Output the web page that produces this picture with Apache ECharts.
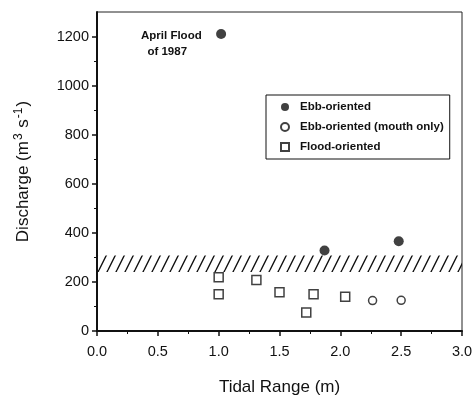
<!DOCTYPE html>
<html><head><meta charset="utf-8">
<script src="https://cdn.jsdelivr.net/npm/echarts@6/dist/echarts.min.js"></script>
<style>html,body{margin:0;padding:0;background:#fff}#c{width:473px;height:397px}</style>
</head><body><div id="c"></div>
<script>
const ebbOriented = [[1.02, 1210], [1.87, 328], [2.48, 366]];
const ebbMouth = [[2.265, 124], [2.50, 125]];
const floodOriented = [[1.00, 219], [1.00, 150], [1.31, 208], [1.50, 158], [1.72, 75], [1.78, 150], [2.04, 140]];
const hatchBand = [240, 308];
const xTicks = [0, 0.5, 1.0, 1.5, 2.0, 2.5, 3.0];
const yTicks = [0, 200, 400, 600, 800, 1000, 1200];

const pc = document.createElement('canvas');
pc.width = 9; pc.height = 18;
const g = pc.getContext('2d');
g.strokeStyle = '#111'; g.lineWidth = 1.4;
g.beginPath();
g.moveTo(0, 18); g.lineTo(9, 0);
g.moveTo(-9, 18); g.lineTo(0, 0);
g.moveTo(9, 18); g.lineTo(18, 0);
g.stroke();

const FONT = 'Liberation Sans, Arial, sans-serif';
const chart = echarts.init(document.getElementById('c'));
chart.setOption({
  animation: false,
  textStyle: { fontFamily: FONT, color: '#111' },
  grid: { left: 97, right: 11, top: 12, bottom: 66, show: true, borderColor: '#222', borderWidth: 1,
    containLabel: false, outerBoundsMode: 'none' },
  xAxis: {
    type: 'value', min: 0, max: 3, interval: 0.5,
    name: 'Tidal Range (m)', nameLocation: 'middle', nameGap: 48,
    nameTextStyle: { fontSize: 17, color: '#111', fontFamily: FONT },
    axisLine: { lineStyle: { color: '#111', width: 2 } },
    axisTick: { length: 5, lineStyle: { color: '#111', width: 1.5 } },
    minorTick: { show: true, splitNumber: 2, length: 3, lineStyle: { color: '#111' } },
    splitLine: { show: false },
    axisLabel: { fontSize: 14.5, color: '#111', margin: 13, formatter: v => v.toFixed(1) }
  },
  yAxis: {
    type: 'value', min: 0, max: 1300, interval: 200,
    name: 'Discharge (m{sup|3} s{sup|-1})', nameLocation: 'middle', nameGap: 64,
    nameTextStyle: { fontSize: 17, color: '#111', fontFamily: FONT, lineHeight: 20,
      rich: { sup: { fontSize: 12, fontFamily: FONT, color: '#111', verticalAlign: 'top', lineHeight: 20, padding: [0, 1, 0, 1] } } },
    axisLine: { lineStyle: { color: '#111', width: 2 } },
    axisTick: { length: 5, lineStyle: { color: '#111', width: 1.5 }, customValues: yTicks },
    minorTick: { show: true, splitNumber: 2, length: 3, lineStyle: { color: '#111' } },
    splitLine: { show: false },
    axisLabel: { fontSize: 14.5, color: '#111', margin: 8, customValues: yTicks, formatter: v => String(v) }
  },
  legend: {
    orient: 'vertical', left: 266, top: 95, width: 186,
    borderColor: '#111', borderWidth: 1, padding: [6, 6, 6, 14],
    itemWidth: 8, itemHeight: 8, itemGap: 8,
    textStyle: { fontSize: 11.5, fontWeight: 'bold', color: '#111', fontFamily: FONT, padding: [0, 0, 0, 6] },
    data: [
      { name: 'Ebb-oriented', icon: 'circle' },
      { name: 'Ebb-oriented (mouth only)', icon: 'circle' },
      { name: 'Flood-oriented', icon: 'rect' }
    ]
  },
  graphic: [{
    type: 'text', left: 141, top: 28,
    style: { text: 'April Flood\n  of 1987', font: 'bold 11.5px ' + FONT, fill: '#111', lineHeight: 16 }
  }],
  series: [
    { name: 'Ebb-oriented', type: 'scatter', data: ebbOriented, symbol: 'circle', symbolSize: 10,
      itemStyle: { color: '#111' },
      markArea: { silent: true, itemStyle: { color: { image: pc, repeat: 'repeat' } },
        data: [[{ yAxis: hatchBand[0] }, { yAxis: hatchBand[1] }]] } },
    { name: 'Ebb-oriented (mouth only)', type: 'scatter', data: ebbMouth, symbol: 'circle', symbolSize: 8,
      itemStyle: { color: '#fff', borderColor: '#111', borderWidth: 1.5 } },
    { name: 'Flood-oriented', type: 'scatter', data: floodOriented, symbol: 'rect', symbolSize: 9,
      itemStyle: { color: '#fff', borderColor: '#111', borderWidth: 1.5 } }
  ]
});
</script></body></html>
